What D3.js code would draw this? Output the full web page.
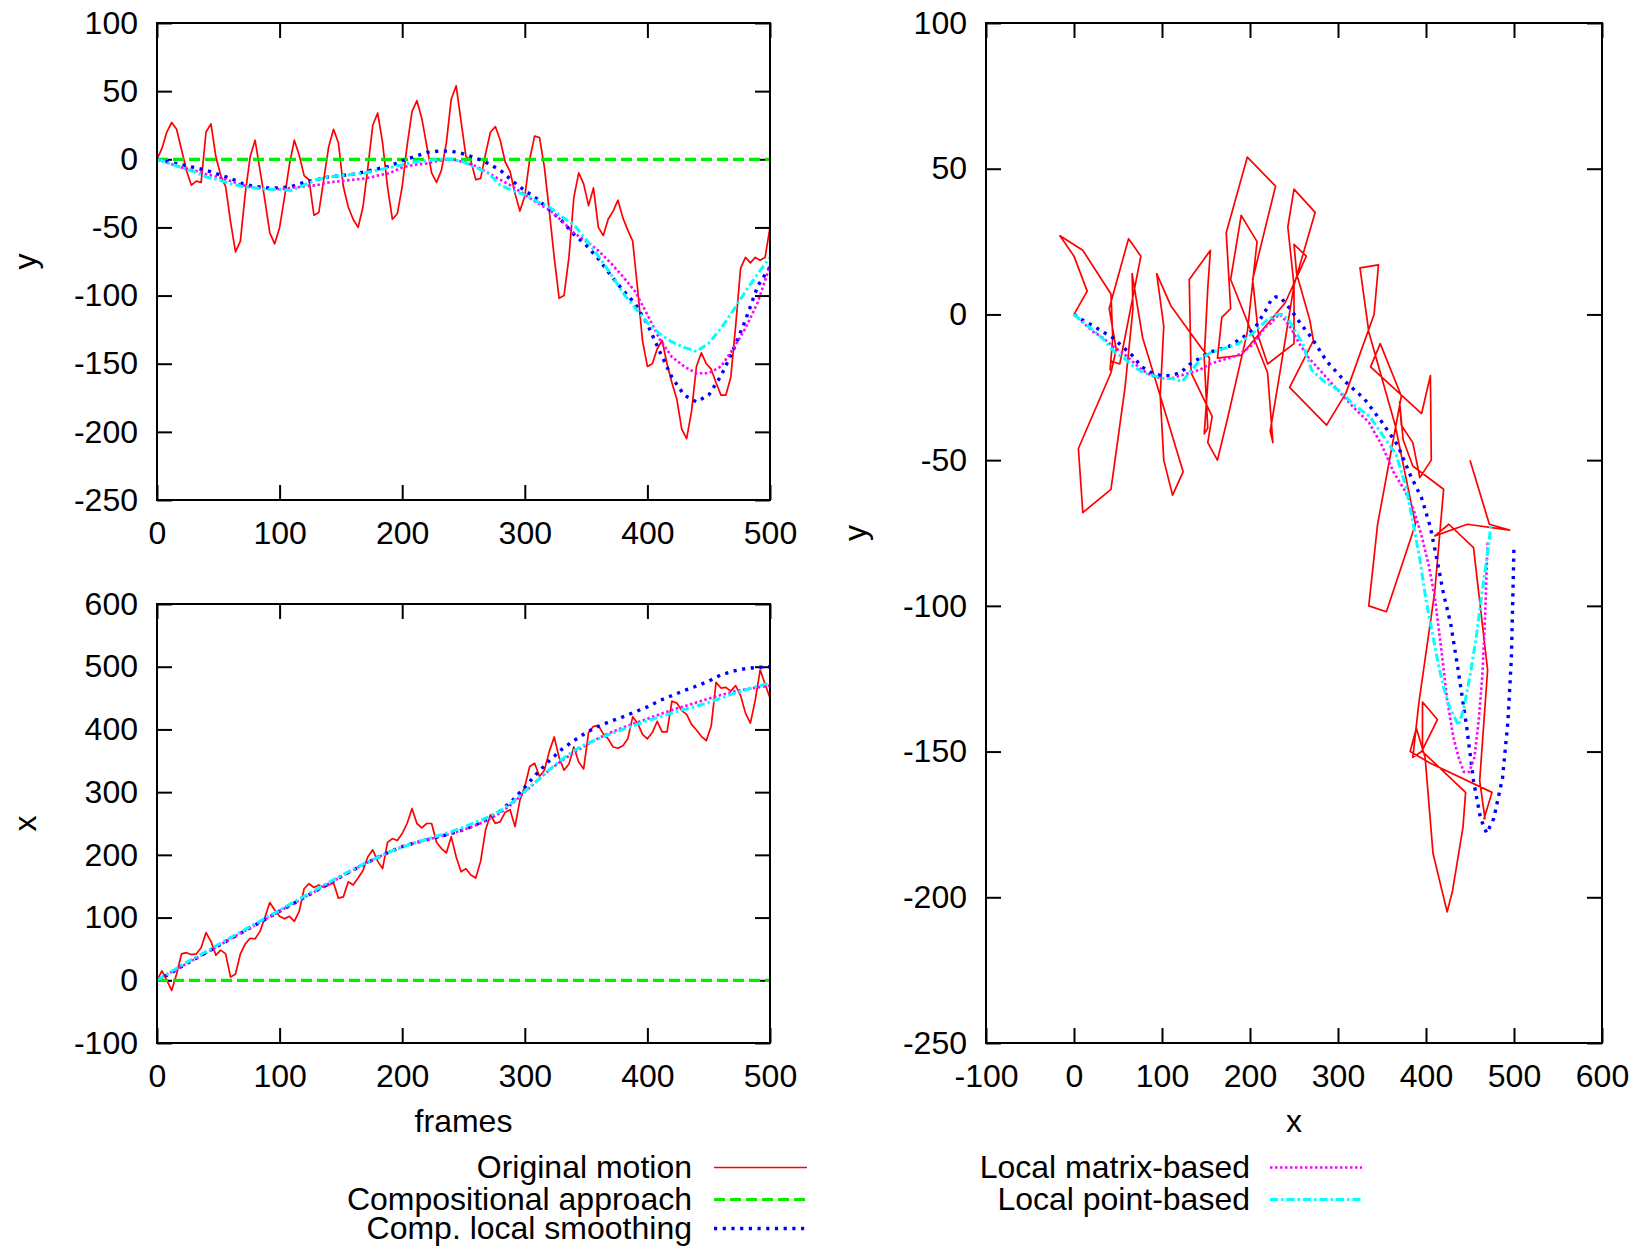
<!DOCTYPE html>
<html>
<head>
<meta charset="utf-8">
<script src="https://cdn.jsdelivr.net/npm/d3@7"></script>
<style>
  html, body { margin: 0; padding: 0; background: #fff; }
  svg { display: block; }
  text { font-family: "Liberation Sans", Arial, Helvetica, sans-serif; }
</style>
</head>
<body>
<svg id="chart" width="1634" height="1246"></svg>
<script>
// ---- Original motion, sampled every 4 frames ----
const origFrames = [0,4,8,12,16,20,24,28,32,36,40,44,48,52,56,60,64,68,72,76,80,84,88,92,96,
  100,104,108,112,116,120,124,128,132,136,140,144,148,152,156,160,164,168,172,176,180,184,188,192,196,
  200,204,208,212,216,220,224,228,232,236,240,244,248,252,256,260,264,268,272,276,280,284,288,292,296,
  300,304,308,312,316,320,324,328,332,336,340,344,348,352,356,360,364,368,372,376,380,384,388,392,396,
  400,404,408,412,416,420,424,428,432,436,440,444,448,452,456,460,464,468,472,476,480,484,488,492,496,500];

const origY = [0,8,20,27,22,7,-8,-19,-16,-17,20,26,2,-12,-20,-46,-68,-60,-25,2,14,-8,-30,-54,-62,
  -50,-28,-4,14,3,-12,-15,-41,-39,-15,9,22,12,-20,-35,-44,-50,-35,-6,25,34,12,-20,-44,-40,
  -20,10,35,43,30,10,-10,-17,-8,12,44,54,28,2,-1,-15,-14,4,20,24,14,-2,-9,-25,-38,
  -27,0,17,16,-6,-38,-72,-102,-100,-72,-28,-10,-18,-34,-21,-50,-56,-44,-38,-30,-43,-52,-60,-95,-133,
  -152,-150,-139,-133,-150,-164,-176,-198,-205,-185,-152,-142,-150,-154,-164,-173,-173,-160,-122,-80,-72,-76,-72,-74,-72,-50];

const origX = [0,15,0,-16,10,42,44,41,42,52,76,62,40,48,42,5,10,42,58,67,66,78,100,124,112,
  102,98,102,94,110,146,154,148,152,148,152,155,131,133,157,152,163,175,197,208,190,178,220,226,223,
  234,250,274,250,243,250,250,220,210,203,229,197,173,178,168,163,190,240,264,250,253,268,272,245,287,
  309,341,346,325,335,365,388,355,335,345,372,348,337,395,405,406,393,385,372,370,374,385,420,410,392,
  385,395,413,396,396,445,442,430,424,408,399,389,382,405,475,466,467,461,470,454,426,410,447,495,472,450];

// ---- Stabilised trajectories, sampled every 10 frames ----
const smoothFrames = [0,10,20,30,40,50,60,70,80,90,100,110,120,130,140,150,160,170,180,190,
  200,210,220,230,240,250,260,270,280,290,300,310,320,330,340,350,360,370,380,390,
  400,410,420,430,440,450,460,470,480,490,500];

// Compositional approach stays at the origin
const compFrames = [0, 500];
const compX = [0, 0];
const compY = [0, 0];

// Comp. local smoothing
const smoothY = [0,-2,-4,-6,-8,-11,-14,-18,-20,-21,-21,-20,-17,-15,-13,-12,-11,-9,-7,-5,
  -1,2,5,6,6,4,1,-3,-8,-16,-23,-29,-37,-45,-55,-63,-73,-85,-96,-106,
  -121,-141,-160,-173,-178,-173,-159,-140,-118,-93,-79];
const smoothX = [0,10,22,33,44,55,66,77,88,99,110,121,132,143,154,165,176,186,196,205,
  213,219,224,229,234,240,248,257,270,287,308,330,350,368,382,395,405,413,420,428,
  436,446,454,462,469,477,487,493,497,499,500];

// Local matrix-based
const matrixY = [0,-3,-6,-8,-11,-13,-16,-19,-21,-22,-22,-21,-20,-19,-17,-16,-15,-14,-12,-10,
  -6,-4,-3,-1,0,-2,-5,-10,-15,-20,-26,-32,-37,-45,-54,-60,-67,-76,-86,-97,
  -114,-132,-145,-152,-157,-157,-152,-139,-124,-105,-78];
const matrixX = [0,11,22,33,44,55,66,77,88,99,110,121,132,143,154,165,176,186,196,205,
  213,219,224,229,234,240,247,256,267,282,300,318,335,350,363,375,386,395,403,410,
  417,424,431,437,443,449,455,460,464,467,470];

// Local point-based
const pointY = [0,-3,-6,-9,-13,-15,-18,-20,-21,-22,-22,-23,-19,-15,-13,-12,-11,-10,-8,-6,
  -4,-2,-1,0,0,-2,-6,-10,-19,-23,-26,-31,-35,-42,-48,-59,-71,-84,-98,-109,
  -120,-128,-134,-138,-141,-135,-124,-111,-97,-84,-72];
const pointX = [0,12,24,35,46,57,68,79,90,101,112,123,134,145,156,167,177,187,196,205,
  212,219,225,231,237,244,252,260,270,284,301,318,336,352,366,377,385,393,400,407,
  414,420,426,432,437,443,450,457,463,469,474];

// Tick values
const frameTicks = [0,100,200,300,400,500];
const yTicks = [100,50,0,-50,-100,-150,-200,-250];
const xTicks = [600,500,400,300,200,100,0,-100];
const xyTicks = [-100,0,100,200,300,400,500,600];

const legendLabels = ["Original motion","Compositional approach","Comp. local smoothing",
  "Local matrix-based","Local point-based"];

// ---- series definitions and line styles ----
const series = [
  { name: legendLabels[0], t: origFrames,   x: origX,   y: origY,   color: "#ff0000", width: 1.7, dash: null },
  { name: legendLabels[1], t: compFrames,   x: compX,   y: compY,   color: "#00ee00", width: 3.2, dash: "11,5" },
  { name: legendLabels[2], t: smoothFrames, x: smoothX, y: smoothY, color: "#0000ff", width: 3.4, dash: "3.2,5.5" },
  { name: legendLabels[3], t: smoothFrames, x: matrixX, y: matrixY, color: "#ff00ff", width: 2.6, dash: "2.5,2.5" },
  { name: legendLabels[4], t: smoothFrames, x: pointX,  y: pointY,  color: "#00ffff", width: 3, dash: "8,3,2.5,3" }
];

const svg = d3.select("#chart");
svg.append("rect").attr("width", 1634).attr("height", 1246).attr("fill", "#fff");
const FONT = 32;

function panel(id, box, xDom, yDom, xt, yt, px, py) {
  const w = box.x1 - box.x0, h = box.y1 - box.y0;
  const xs = d3.scaleLinear().domain(xDom).range([0, w]);
  const ys = d3.scaleLinear().domain(yDom).range([h, 0]);
  const g = svg.append("g").attr("transform", `translate(${box.x0},${box.y0})`);

  svg.append("defs").append("clipPath").attr("id", id)
    .append("rect").attr("x", 0).attr("y", 0).attr("width", w).attr("height", h);

  const fmt = d => String(d);
  const style = sel => {
    sel.select(".domain").remove();
    sel.selectAll(".tick line").attr("stroke", "#000").attr("stroke-width", 2);
    sel.selectAll("text").attr("font-size", FONT).attr("fill", "#000")
      .attr("font-family", "'Liberation Sans', Arial, sans-serif");
    sel.attr("font-size", null).attr("font-family", null);
  };
  g.append("g").attr("transform", `translate(0,${h})`)
    .call(d3.axisBottom(xs).tickValues(xt).tickSizeInner(-15).tickSizeOuter(0).tickPadding(21).tickFormat(fmt))
    .call(style);
  g.append("g")
    .call(d3.axisTop(xs).tickValues(xt).tickSizeInner(-15).tickSizeOuter(0).tickFormat(""))
    .call(style);
  g.append("g")
    .call(d3.axisLeft(ys).tickValues(yt).tickSizeInner(-15).tickSizeOuter(0).tickPadding(19).tickFormat(fmt))
    .call(style);
  g.append("g").attr("transform", `translate(${w},0)`)
    .call(d3.axisRight(ys).tickValues(yt).tickSizeInner(-15).tickSizeOuter(0).tickFormat(""))
    .call(style);

  const plot = g.append("g").attr("clip-path", `url(#${id})`);
  series.forEach(s => {
    const idx = d3.range(s.t.length);
    const line = d3.line()
      .x(i => xs(px(s)[i]))
      .y(i => ys(py(s)[i]));
    plot.append("path")
      .attr("d", line(idx))
      .attr("fill", "none")
      .attr("stroke", s.color)
      .attr("stroke-width", s.width)
      .attr("stroke-dasharray", s.dash)
      .attr("stroke-linejoin", "round");
  });

  g.append("rect").attr("width", w).attr("height", h)
    .attr("fill", "none").attr("stroke", "#000").attr("stroke-width", 2);
  return g;
}

// y against frames
panel("clipA", { x0: 157, x1: 770, y0: 23, y1: 500 }, [0, 500], [-250, 100],
  frameTicks, yTicks, s => s.t, s => s.y);
// x against frames
panel("clipB", { x0: 157, x1: 770, y0: 604, y1: 1043 }, [0, 500], [-100, 600],
  frameTicks, xTicks, s => s.t, s => s.x);
// trajectory in the image plane
panel("clipC", { x0: 986, x1: 1602, y0: 23, y1: 1043 }, [-100, 600], [-250, 100],
  xyTicks, yTicks, s => s.x, s => s.y);

// axis titles
function title(txt, x, y, rot) {
  svg.append("text").attr("transform", `translate(${x},${y}) rotate(${rot || 0})`)
    .attr("text-anchor", "middle").attr("font-size", FONT).attr("fill", "#000").text(txt);
}
title("y", 36, 261.5, -90);
title("x", 36, 823.5, -90);
title("y", 866, 533, -90);
title("frames", 463.5, 1132);
title("x", 1294, 1132);

// legend
const legendPos = [
  { tx: 692, lx0: 714, lx1: 807, cy: 1167.5 },
  { tx: 692, lx0: 714, lx1: 807, cy: 1199.5 },
  { tx: 692, lx0: 714, lx1: 807, cy: 1228.5 },
  { tx: 1250, lx0: 1270, lx1: 1362, cy: 1167.5 },
  { tx: 1250, lx0: 1270, lx1: 1362, cy: 1199.5 }
];
series.forEach((s, i) => {
  const p = legendPos[i];
  svg.append("text").attr("x", p.tx).attr("y", p.cy + 10.5)
    .attr("text-anchor", "end").attr("font-size", FONT).attr("fill", "#000").text(s.name);
  svg.append("line").attr("x1", p.lx0).attr("x2", p.lx1).attr("y1", p.cy).attr("y2", p.cy)
    .attr("stroke", s.color).attr("stroke-width", s.width).attr("stroke-dasharray", s.dash);
});
</script>
</body>
</html>
